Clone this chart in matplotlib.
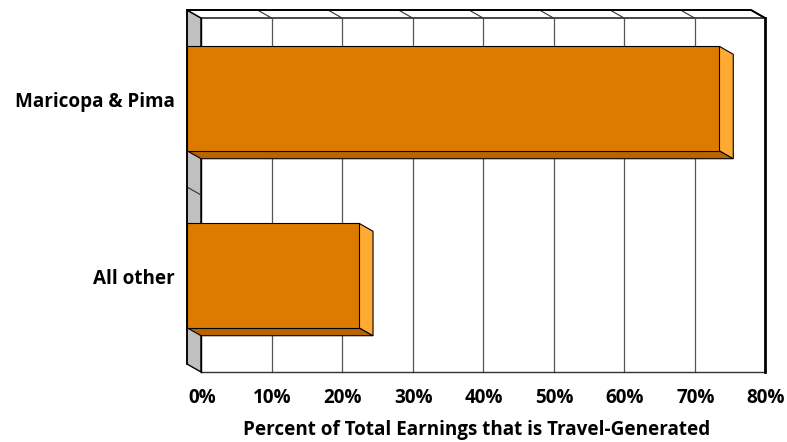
import matplotlib
matplotlib.use("Agg")
import matplotlib.pyplot as plt
from matplotlib.patches import Polygon

plt.rcParams['font.family'] = ['Open Sans', 'DejaVu Sans']

# data
categories = ["Maricopa & Pima", "All other"]
share = [75.5, 24.4]          # percent of earnings that is travel-generated
ticks = [0, 10, 20, 30, 40, 50, 60, 70, 80]
tick_labels = ["0%", "10%", "20%", "30%", "40%", "50%", "60%", "70%", "80%"]
xlabel = "Percent of Total Earnings that is Travel-Generated"

front_col = "#DD7B00"
side_col = "#FFAA33"
under_col = "#B86400"
wall_col = "#C0C0C0"

W, H = 787, 442
fig = plt.figure(figsize=(W / 100, H / 100), dpi=100)
# back wall of the 3-D box
ax = fig.add_axes([201 / W, 70 / H, 564 / W, 354 / H])
xmax = ticks[-1]
ax.set_xlim(0, xmax)
ax.set_ylim(len(categories) - 0.5, -0.5)
ax.axis("off")

# depth of the box: 14 px left and 8 px up, expressed in data units
px_x = 564 / xmax
px_y = 354 / len(categories)
dx = -14 / px_x
dy = -8 / px_y
top, bot = -0.5, len(categories) - 0.5


def poly(pts, fc, ec="black", lw=0.8, z=2):
    ax.add_patch(Polygon(pts, closed=True, facecolor=fc, edgecolor=ec,
                         linewidth=lw, zorder=z, clip_on=False,
                         joinstyle="miter"))


# left side wall
poly([(0, top), (dx, top + dy), (dx, bot + dy), (0, bot)], wall_col, lw=1.0, z=1)
# wall dividers between categories
for b in range(1, len(categories)):
    ax.plot([0, dx], [b - 0.5, b - 0.5 + dy], color="#333333", lw=0.8,
            zorder=1.5, clip_on=False)

# top strip
poly([(0, top), (dx, top + dy), (xmax + dx, top + dy), (xmax, top)], "white",
     lw=1.0, z=1)
for t in ticks[1:-1]:
    ax.plot([t, t + dx], [top, top + dy], color="#333333", lw=0.8, zorder=1.5,
            clip_on=False)
    ax.plot([t, t], [top, bot], color="#555555", lw=0.9, zorder=1.2,
            clip_on=False)

# floor line and right wall
ax.plot([0, xmax], [bot, bot], color="#333333", lw=1.0, zorder=1.5, clip_on=False)
ax.plot([xmax, xmax], [top, bot], color="black", lw=2.0, zorder=1.5, clip_on=False)
ax.plot([0, 0], [top, bot], color="black", lw=1.0, zorder=1.5, clip_on=False)
ax.plot([dx, dx], [top + dy, bot + dy], color="black", lw=1.2, zorder=1.6, clip_on=False)
ax.plot([dx, xmax + dx, xmax], [top + dy, top + dy, top], color="black",
        lw=1.4, zorder=1.6, clip_on=False)

# 3-D bars
hw = 0.295
for i, v in enumerate(share):
    y0, y1 = i - hw, i + hw
    # underside
    poly([(0, y1), (v, y1), (v + dx, y1 + dy), (dx, y1 + dy)], under_col, z=3)
    # right end
    poly([(v + dx, y0 + dy), (v, y0), (v, y1), (v + dx, y1 + dy)], side_col, z=3)
    # front face
    poly([(dx, y0 + dy), (v + dx, y0 + dy), (v + dx, y1 + dy), (dx, y1 + dy)],
         front_col, z=4)

fs = 13.6

# category labels
for i, name in enumerate(categories):
    ax.annotate(name, (0, i), xytext=(-26, 4), textcoords="offset pixels",
                ha="right", va="center", fontsize=fs, fontweight="bold",
                annotation_clip=False)

# percent labels along the bottom
for t, lab in zip(ticks, tick_labels):
    ax.annotate(lab, (t, bot), xytext=(1, -26), textcoords="offset pixels",
                ha="center", va="center", fontsize=fs, fontweight="bold",
                annotation_clip=False)

fig.text(477 / W, 1 - 430 / H, xlabel, ha="center", va="center",
         fontsize=fs, fontweight="bold")

fig.savefig("out.png", dpi=100)
